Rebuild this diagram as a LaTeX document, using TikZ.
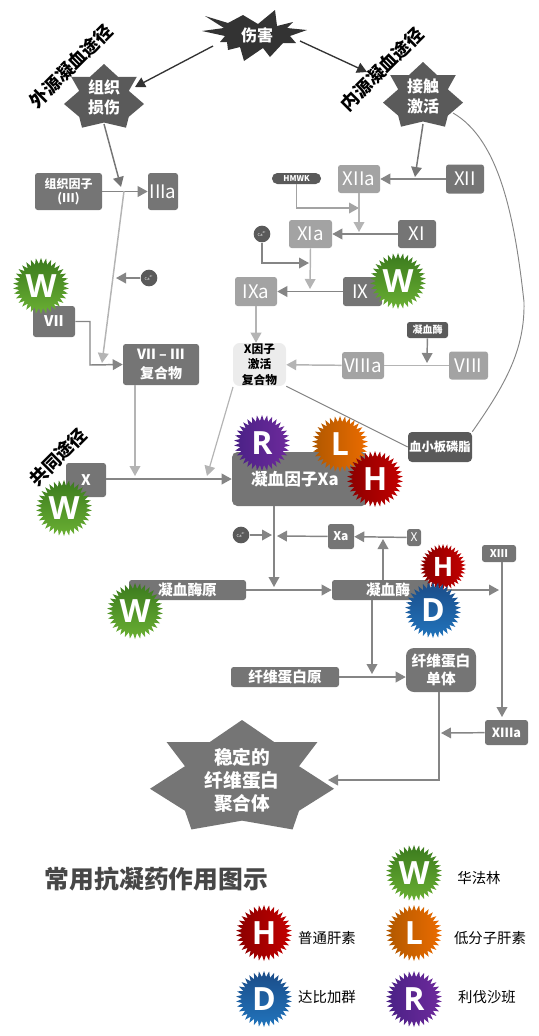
\documentclass[tikz,border=0pt]{standalone}
\usepackage{fontspec}
\setmainfont{Noto Sans CJK SC}
\newfontfamily\latinfont{Open Sans}
\usetikzlibrary{arrows.meta,shapes.geometric}
\definecolor{cdark}{HTML}{333333}
\definecolor{cbox}{HTML}{757575}
\definecolor{cdeep}{HTML}{5A5A5A}
\definecolor{clight}{HTML}{A3A3A3}
\definecolor{cline}{HTML}{858585}
\definecolor{cpale}{HTML}{B4B4B4}
\definecolor{sealg}{HTML}{3B7A1E}
\definecolor{sealgg}{HTML}{6AB033}
\definecolor{sealh1}{HTML}{8A0000}
\definecolor{sealh2}{HTML}{C40000}
\definecolor{seald1}{HTML}{1B4C88}
\definecolor{seald2}{HTML}{2174BC}
\definecolor{seall1}{HTML}{B05800}
\definecolor{seall2}{HTML}{EC6C00}
\definecolor{sealr1}{HTML}{4A2186}
\definecolor{sealr2}{HTML}{6E2A9C}
\newcommand{\sevenstar}[5]{\fill[#5] (#1,#2) -- ++(.35*#3,.2*#4) -- ++(.47*#3,0) -- ++(-.2*#3,.22*#4) -- ++(.38*#3,.205*#4) -- ++(-.38*#3,.2*#4) -- ++(-.07*#3,.17*#4) -- ++(-.55*#3,-.08*#4) -- ++(-.55*#3,.08*#4) -- ++(-.07*#3,-.17*#4) -- ++(-.38*#3,-.2*#4) -- ++(.38*#3,-.205*#4) -- ++(-.2*#3,-.22*#4) -- ++(.47*#3,0) -- cycle;}
\tikzset{
 wh/.style 2 args={minimum width=#1*0.75pt, minimum height=#2*0.75pt, inner sep=0pt},
 box/.style={fill=cbox, text=white, rounded corners=2pt, align=center, font=\bfseries\fontsize{9}{10.5}\selectfont},
 lbox/.style={box, font=\fontsize{14}{14}\selectfont},
 pbox/.style={lbox, fill=clight},
 startxt/.style={text=white, align=center, font=\bfseries\fontsize{12}{15}\selectfont, inner sep=0pt},
 tag/.style={rotate=45, font=\bfseries\fontsize{13.5}{13.5}\selectfont},
 ca/.style={circle, fill=cdeep, text=white, minimum size=12.5pt, inner sep=0pt, font=\fontsize{3}{3}\selectfont},
 seal/.style={star, star points=34, star point ratio=1.27, minimum size=#1*1.5pt, inner sep=0pt, text=white, font=\latinfont\bfseries\fontsize{24}{24}\selectfont},
 seal/.default=28,
 sealw/.style={seal=#1, top color=sealg, bottom color=sealgg},
 sealw/.default=28,
 sealh/.style={seal=#1, left color=sealh1, right color=sealh2},
 sealh/.default=28,
 seald/.style={seal=#1, top color=seald1, bottom color=seald2},
 seald/.default=28,
 seall/.style={seal=#1, left color=seall1, right color=seall2},
 seall/.default=28,
 sealr/.style={seal=#1, left color=sealr1, right color=sealr2},
 sealr/.default=28,
 legend/.style={font=\fontsize{10.8}{10.8}\selectfont},
 arr/.style={-{Triangle[length=7.5pt,width=8pt]}, line width=1.1pt, draw=cline},
 parr/.style={arr, draw=cpale},
 thin line/.style={draw=cline, line width=0.7pt},
}
\begin{document}
\begin{tikzpicture}[x=0.75pt,y=-0.75pt]
 \useasboundingbox (0,0) rectangle (539,1036);
 % stars
 \fill[cdark] (205,16) -- (228,23) -- (243,15) -- (258,24) -- (275,10) -- (277,26) -- (293,22) -- (287,28) -- (307,30) -- (290,36) -- (296,43) -- (283,43) -- (270,57) -- (263,48) -- (244,61) -- (240,47) -- (228,50) -- (227,42) -- (220,42) -- (225,36) -- (202,31) -- (224,28) -- cycle;
 \node[startxt] (hurt) at (257,35) {伤害};
 \sevenstar{104}{64}{40}{64}{cdeep}
 \node[startxt, wh={60}{50}] (tissue) at (104,97) {组织\\损伤};
 \sevenstar{423}{62}{40}{65}{cdeep}
 \node[startxt, wh={60}{50}] (contact) at (423,96) {接触\\激活};
 \sevenstar{242}{720}{92}{110}{cbox}
 \node[startxt, font=\bfseries\fontsize{14}{17.25}\selectfont, wh={120}{70}] (fibrin) at (242,780) {稳定的\\纤维蛋白\\聚合体};
 % path labels
 \node[tag] (extag) at (71,66) {外源凝血途径};
 \node[tag] (intag) at (382,69) {内源凝血途径};
 \node[tag] (comtag) at (58,457) {共同途径};
 % left column
 \node[box, wh={67}{37}] (tf) at (68.5,191.5) {组织因子\\(III)};
 \node[lbox, wh={30}{37}] (iiia) at (163,191.5) {IIIa};
 \node[ca] (caa) at (149,278) {Ca\textsuperscript{2+}};
 \node[box, wh={42}{31}, font=\bfseries\fontsize{11}{11}\selectfont] (vii) at (54,321.5) {VII};
 \node[box, wh={76}{41}, font=\bfseries\fontsize{10.5}{14}\selectfont] (viiiii) at (161,364.5) {VII -- III\\复合物};
 \node[box, wh={40}{34}, font=\bfseries\fontsize{11}{11}\selectfont] (xs) at (86,480) {X};
 \node[box, wh={135}{54}, rounded corners=4pt, font=\bfseries\fontsize{12.5}{12.5}\selectfont] (xafac) at (299.5,479) {凝血因子Xa\hspace*{7pt}};
 % right column
 \node[lbox, wh={38}{29}] (xii) at (465,179) {XII};
 \node[pbox, wh={42}{28}] (xiia) at (359,179) {XIIa};
 \node[box, wh={49}{11}, fill=cdeep, rounded corners=4pt, font=\bfseries\fontsize{6}{6}\selectfont] (hmwk) at (296.5,178.5) {HMWK};
 \node[lbox, wh={38}{28}] (xi) at (417,234) {XI};
 \node[pbox, wh={43}{28}] (xia) at (310.5,234) {XIa};
 \node[ca] (cab) at (262,234) {Ca\textsuperscript{2+}};
 \node[lbox, wh={39}{29}] (ix) at (362.5,291.5) {\hspace*{-3pt}IX};
 \node[pbox, wh={42}{29}] (ixa) at (256,291.5) {IXa};
 \node[box, wh={53}{43}, fill=gray!15, text=black, rounded corners=5pt, font=\bfseries\fontsize{8.8}{11.5}\selectfont] (xcomplex) at (259.5,364.5) {X因子\\激活\\复合物};
 \node[pbox, wh={42}{27}] (viiia) at (363,365.5) {VIIIa};
 \node[pbox, wh={39}{28}] (viii) at (468.5,365.5) {VIII};
 \node[box, wh={41}{16}, fill=cdeep, font=\bfseries\fontsize{7.5}{7.5}\selectfont] (thrsmall) at (427.5,330) {凝血酶};
 \node[box, wh={64}{30}, fill=cdeep, rounded corners=3pt, font=\bfseries\fontsize{9.2}{9.2}\selectfont] (plate) at (440,447) {血小板磷脂};
 % lower part
 \node[box, wh={26}{25}, font=\bfseries\fontsize{9}{9}\selectfont] (xasm) at (341,536.5) {Xa};
 \node[box, wh={14}{17}, font=\fontsize{9}{9}\selectfont] (xsm) at (414,537.5) {X};
 \node[ca] (cac) at (241,535) {Ca\textsuperscript{2+}};
 \node[box, wh={34}{17}, font=\bfseries\fontsize{8}{8}\selectfont] (xiii) at (499,553.5) {XIII};
 \node[box, wh={117}{20}, font=\bfseries\fontsize{11}{11}\selectfont] (pro) at (187.5,590) {凝血酶原};
 \node[box, wh={98}{20}, font=\bfseries\fontsize{11}{11}\selectfont] (thr) at (381,590) {\hspace*{10.5pt}凝血酶};
 \node[box, wh={108}{20}, font=\bfseries\fontsize{11}{11}\selectfont] (fbg) at (285,677) {纤维蛋白原};
 \node[box, wh={70}{44}, rounded corners=6pt, font=\bfseries\fontsize{11}{13.5}\selectfont] (mono) at (441,670) {纤维蛋白\\单体};
 \node[box, wh={43}{25}, font=\bfseries\fontsize{9.5}{9.5}\selectfont] (xiiia) at (506.5,732.5) {XIIIa};
 % free ends
 \coordinate (tfj) at (121,187);
 \coordinate (tfm) at (124,191);
 \coordinate (vj) at (102,363);
 \coordinate (caj) at (116,278);
 \coordinate (xline) at (135,476);
 \coordinate (xlineb) at (207,476);
 \coordinate (xiij) at (415,177);
 \coordinate (xij) at (359,232);
 \coordinate (ixj) at (310,289);
 \coordinate (viiij) at (427,363);
 \coordinate (caj2) at (272,535);
 \coordinate (xaj) at (277,536);
 \coordinate (xj) at (383,539);
 \coordinate (prj) at (274,587);
 \coordinate (thrj) at (499,590);
 \coordinate (monoj) at (372,674);
 \coordinate (hmj) at (359,208);
 \coordinate (caj3) at (309,263);
 \coordinate (hurtl) at (213,46);
 \coordinate (hurtr) at (300,41);
 \coordinate (tissuer) at (135,87);
 \coordinate (contactl) at (367,72);
 \coordinate (tissueb) at (104,124);
 \coordinate (contactb) at (423,124);
 \coordinate (vbend) at (90,365);
 \coordinate (xcompb) at (233,387);
 \coordinate (curvea) at (453,113);
 \coordinate (curveb) at (524,302);
 \coordinate (xiiid) at (502,562);
 \coordinate (xiiiu) at (502,717);
 \coordinate (xiiiaj) at (441,733);
 \coordinate (monob) at (439,692);
 \coordinate (fibrinr) at (328,780);
 % connectors
 \draw[arr, draw=cdark, line width=1pt] (hurtl) -- (tissuer);
 \draw[arr, draw=cdark, line width=1pt] (hurtr) -- (contactl);
 \draw[arr, draw=cbox] (tissueb) -- (tfj);
 \draw[arr] (tf) -- (iiia);
 \draw[parr] (tfm) -- (vj);
 \draw[arr] (caa) -- (caj);
 \draw[arr] (vii.east) -| (vbend) -- (viiiii.west);
 \draw[parr] (viiiii.south -| xline) -- (xline);
 \draw[parr, line width=0.9pt] (xcompb) -- (xlineb);
 \draw[arr] (xs.east |- xafac) -- (xafac.west);
 \draw[arr, draw=cbox] (contactb) -- (xiij);
 \draw[arr] (xii) -- (xiia);
 \draw[arr, draw=clight] (hmwk.south) |- (hmj);
 \draw[parr] (xiia) -- (xij);
 \draw[arr] (xi) -- (xia);
 \draw[arr] (cab.south) |- (caj3);
 \draw[parr] (xia.south) -- (ixj);
 \draw[arr] (ix) -- (ixa);
 \draw[parr] (ixa.south) -- (ixa.south |- xcomplex.north);
 \draw[parr] (viiia) -- (xcomplex);
 \draw[draw=cpale, line width=1.1pt] (viii) -- (viiia);
 \draw[arr] (thrsmall) -- (viiij);
 \draw[thin line] (plate.west) -- (xcomplex.south east);
 \draw[thin line] (curvea) .. controls (500,140) and (515,220) .. (curveb) .. controls (525,350) and (505,385) .. (plate.north east);
 \draw[arr] (xafac.south -| prj) -- (prj);
 \draw[arr] (cac) -- (caj2);
 \draw[arr] (xasm) -- (xaj);
 \draw[arr] (xsm) -- (xasm);
 \draw[arr] (thr.north -| xj) -- (xj);
 \draw[arr] (pro) -- (thr);
 \draw[arr] (thr) -- (thrj);
 \draw[arr] (xiiid) -- (xiiiu);
 \draw[arr] (thr.south -| monoj) -- (monoj);
 \draw[arr] (fbg) -- (mono.west |- fbg);
 \draw[arr] (xiiia) -- (xiiiaj);
 \draw[arr] (monob) |- (fibrinr);
 % seals
 \node[sealw] (w1) at (41,286) {W};
 \node[sealw] (w2) at (64,508) {W};
 \node[sealw] (w3) at (398,281) {W};
 \node[sealw] (w4) at (135,611) {W};
 \node[sealr] (r1) at (262,443) {R};
 \node[seall] (l1) at (340,444) {L};
 \node[sealh] (h1) at (375,479) {H};
 \node[sealh=23, font=\latinfont\bfseries\fontsize{20}{20}\selectfont] (h2) at (443,567) {H};
 \node[seald] (d1) at (433,610) {D};
 % legend
 \node[font=\bfseries\fontsize{18.6}{18.6}\selectfont, text=cdark!90!white] (title) at (156.5,879) {常用抗凝药作用图示};
 \node[sealw] (lw) at (414,873) {W};
 \node[seall] (ll) at (414,933) {L};
 \node[sealr] (lr) at (414,999) {R};
 \node[sealh] (lh) at (264,933) {H};
 \node[seald] (ld) at (264,999) {D};
 \node[legend] (tw) at (479,878) {华法林};
 \node[legend] (tl) at (490,938) {低分子肝素};
 \node[legend] (tr) at (487,997) {利伐沙班};
 \node[legend] (th) at (327,938) {普通肝素};
 \node[legend] (td) at (327,997) {达比加群};
\end{tikzpicture}
\end{document}
